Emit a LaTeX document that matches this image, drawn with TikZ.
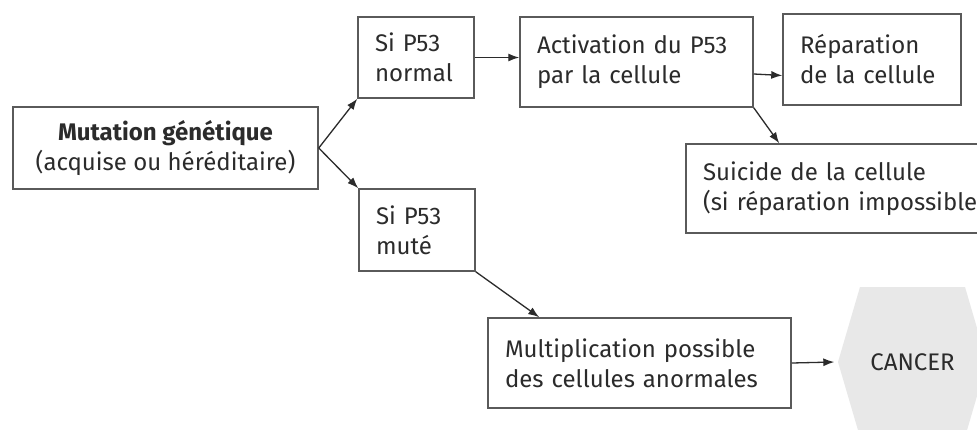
\documentclass[tikz,border=0pt]{standalone}
\usepackage{fontspec}
\setmainfont{Fira Sans}
\usetikzlibrary{arrows.meta}
\definecolor{ink}{HTML}{2B2B2B}
\definecolor{frame}{HTML}{5A5A5A}
\definecolor{hexfill}{HTML}{E8E8E8}
\begin{document}
\begin{tikzpicture}[x=1pt,y=-1pt,
  every node/.style={font=\fontsize{24}{30}\selectfont, text=ink},
  box/.style={draw=frame, line width=1.5pt, inner xsep=17pt, inner ysep=0pt, align=left},
  conn/.style={draw=ink, line width=1.3pt, -{Latex[length=11pt,width=8pt]}}
]
\useasboundingbox[fill=white] (0,0) rectangle (977,429);
% hexagon background
\fill[hexfill] (838,362) -- (860,287) -- (965,287) -- (987,362) -- (965,437) -- (860,437) -- cycle;
\node[box, align=center, minimum width=305pt, minimum height=82pt, inner xsep=5pt] (mut) at (165.5,148) {\textbf{Mutation génétique}\\(acquise ou héréditaire)};
\node[box, text width=82pt, minimum height=81pt] (norm) at (416,57.5) {Si P53\\normal};
\node[box, text width=82pt, minimum height=82pt] (mute) at (417,230) {Si P53\\muté};
\node[box, text width=199pt, minimum height=90pt] (act) at (636.5,62) {Activation du P53\\par la cellule};
\node[box, text width=144pt, minimum height=91pt] (rep) at (872,59.5) {Réparation\\de la cellule};
\node[box, text width=300pt, minimum height=89pt] (sui) at (853,188.5) {Suicide de la cellule\\(si réparation impossible)};
\node[box, text width=269pt, minimum height=90pt] (mult) at (639.5,363) {Multiplication possible\\des cellules anormales};
\node[minimum width=150pt, minimum height=150pt, inner sep=0pt] (cancer) at (912.5,362) {CANCER};
\draw[conn] (mut.east) -- (norm.south west);
\draw[conn] (mut.east) -- (mute.north west);
\draw[conn] (norm.east) -- (norm.east -| act.west);
\draw[conn] ([yshift=-12pt]act.east) -- ([yshift=-16pt]rep.west);
\draw[conn] (act.south east) -- ([xshift=94pt]sui.north west);
\draw[conn] (mute.south east) -- ([xshift=52pt]mult.north west);
\draw[conn] (mult.east) -- ([xshift=-3pt]cancer.west);
\end{tikzpicture}
\end{document}
